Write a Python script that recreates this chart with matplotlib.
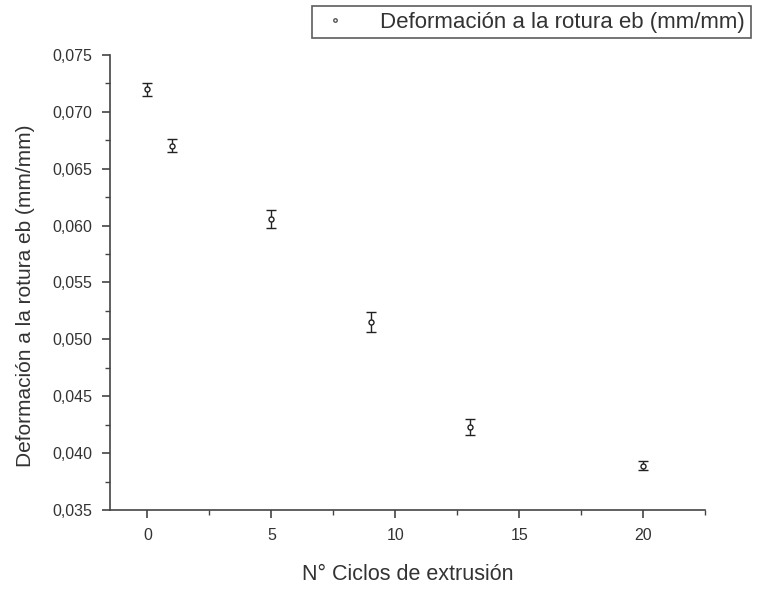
import numpy as np
import matplotlib
matplotlib.use('Agg')
import matplotlib.pyplot as plt
from matplotlib.ticker import MultipleLocator, FuncFormatter
from matplotlib.lines import Line2D

plt.rcParams['font.family'] = ['Liberation Sans', 'DejaVu Sans']

# strain at break vs number of extrusion cycles
ciclos = [0, 1, 5, 9, 13, 20]
deformacion = [0.0720, 0.0670, 0.0606, 0.0515, 0.0423, 0.0389]
error = [0.00057, 0.00057, 0.00080, 0.00088, 0.00070, 0.00040]

serie = 'Deformación a la rotura eb (mm/mm)'
xlabel = 'N° Ciclos de extrusión'
ylabel = 'Deformación a la rotura eb (mm/mm)'
texto = '#333333'

fig = plt.figure(figsize=(7.82, 6.10), dpi=100)
ax = fig.add_axes([0.141, 0.164, 0.761, 0.746])

ax.errorbar(ciclos, deformacion, yerr=error, fmt='o', color='#222222',
            markerfacecolor='white', markersize=3.6, markeredgewidth=1,
            elinewidth=1, capsize=3.8, capthick=1.8)

ax.set_xlim(-1.5, 22.5)
ax.set_ylim(0.035, 0.075)
ax.xaxis.set_major_locator(MultipleLocator(5))
ax.xaxis.set_minor_locator(MultipleLocator(2.5))
ax.yaxis.set_major_locator(MultipleLocator(0.005))
ax.yaxis.set_minor_locator(MultipleLocator(0.0025))
ax.yaxis.set_major_formatter(FuncFormatter(lambda v, p: f'{v:.3f}'.replace('.', ',')))

for s in ['top', 'right']:
    ax.spines[s].set_visible(False)
for s in ['left', 'bottom']:
    ax.spines[s].set_color('#444444')
    ax.spines[s].set_linewidth(1.2)
ax.tick_params(which='major', direction='out', length=6, width=1.2,
               color='#444444', labelsize=11.5, labelcolor=texto, pad=7)
ax.tick_params(which='minor', direction='out', length=3.5, width=1,
               color='#444444')

ax.set_xlabel(xlabel, fontsize=15.5, color=texto, labelpad=15)
ax.set_ylabel(ylabel, fontsize=15, color=texto)
ax.yaxis.set_label_coords(-0.127, 0.47)

handle = Line2D([], [], marker='o', linestyle='none', markersize=2.5,
                markerfacecolor='white', markeredgecolor='#555555')
leg = fig.legend([handle], [serie], loc='upper right',
                 bbox_to_anchor=(0.974, 1.008), fontsize=16, frameon=True,
                 fancybox=False, edgecolor='#333333', borderpad=0.25,
                 handlelength=1.5, handletextpad=1.3, labelcolor=texto)
leg.get_frame().set_linewidth(1.2)

fig.savefig('out.png', dpi=100)
